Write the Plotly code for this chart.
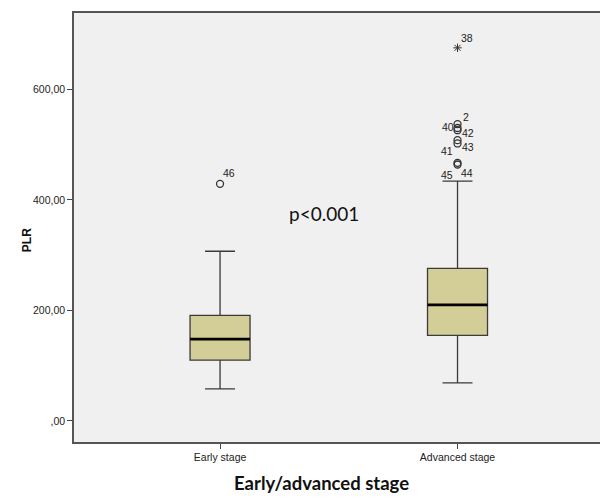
import plotly.graph_objects as go

categories = ["Early stage", "Advanced stage"]
q1 = [110, 155]
medians = [148, 210]
q3 = [191, 276]
lower_whisker = [58, 69]
upper_whisker = [307, 434]

# outliers: (category index, value, label)
outlier_cat = [0, 1, 1, 1, 1, 1, 1, 1]
outlier_val = [429, 537, 530, 526, 508, 502, 467, 464]
outlier_lab = ["46", "2", "40", "42", "43", "41", "45", "44"]
extreme_cat = [1]
extreme_val = [675]
extreme_lab = ["38"]

# label offsets (px) – style only
outlier_off = [(9, 11), (8, 7), (-10, 1), (10, -3), (10, -7), (-11, -8), (-11, -12), (9, -9)]
extreme_off = [(9, 10)]

y_ticks = [0, 200, 400, 600]
y_tick_text = [",00", "200,00", "400,00", "600,00"]

FONT = "Liberation Sans, Arial, sans-serif"
BOXW = 0.2526
fig = go.Figure()
fig.add_trace(go.Box(
    x=[0, 1], q1=q1, median=medians, q3=q3,
    lowerfence=lower_whisker, upperfence=upper_whisker,
    width=BOXW, whiskerwidth=0.5, boxpoints=False,
    fillcolor="#D3CE97", line=dict(color="#3a3a3a", width=1.3),
    showlegend=False, hoverinfo="skip",
))
for i, m in enumerate(medians):
    fig.add_trace(go.Scatter(
        x=[i - BOXW / 2, i + BOXW / 2], y=[m, m], mode="lines",
        line=dict(color="black", width=2.6), showlegend=False, hoverinfo="skip"))

fig.add_trace(go.Scatter(
    x=outlier_cat, y=outlier_val, mode="markers",
    marker=dict(symbol="circle-open", size=7, color="#333", line=dict(width=1.3)),
    showlegend=False, hoverinfo="skip"))
fig.add_trace(go.Scatter(
    x=extreme_cat, y=extreme_val, mode="markers",
    marker=dict(symbol="asterisk-open", size=7, color="#333", line=dict(width=1, color="#333")),
    showlegend=False, hoverinfo="skip"))

for c, v, lab, off in list(zip(outlier_cat, outlier_val, outlier_lab, outlier_off)) + \
        list(zip(extreme_cat, extreme_val, extreme_lab, extreme_off)):
    fig.add_annotation(x=c, y=v, text=lab, showarrow=False, xshift=off[0], yshift=off[1],
                       font=dict(family=FONT, size=10.5, color="#222"))

fig.add_annotation(x=0.5, y=375, text="p<0.001", showarrow=False, xshift=-15,
                   font=dict(family="Lato", size=19, color="#111"))
fig.add_annotation(xref="paper", yref="paper", x=(321 - 74) / 526, y=-0.125,
                   text="<b>Early/advanced stage</b>", showarrow=False,
                   font=dict(family="Lato", size=18.5, color="#111"))
fig.add_annotation(xref="paper", yref="paper", x=-0.105, y=0.47, textangle=-90,
                   text="<b>PLR</b>", showarrow=False,
                   font=dict(family=FONT, size=12, color="#111"))

fig.update_layout(
    width=600, height=499,
    margin=dict(l=74, r=0, t=13, b=57),
    paper_bgcolor="white", plot_bgcolor="#F0F0F0",
    xaxis=dict(range=[-0.615, 1.6], tickvals=[0, 1], ticktext=categories,
               showgrid=False, zeroline=False, ticks="outside", ticklen=5,
               tickcolor="#444", showline=True, mirror=True, linecolor="#555", linewidth=1.5,
               tickfont=dict(family=FONT, size=10.5, color="#222")),
    yaxis=dict(range=[-38, 738], tickvals=y_ticks, ticktext=y_tick_text,
               showgrid=False, zeroline=False, ticks="outside", ticklen=5,
               tickcolor="#444", showline=True, mirror=False, linecolor="#555", linewidth=1.5,
               tickfont=dict(family=FONT, size=10.5, color="#222")),
)
fig.write_html("out.html")
